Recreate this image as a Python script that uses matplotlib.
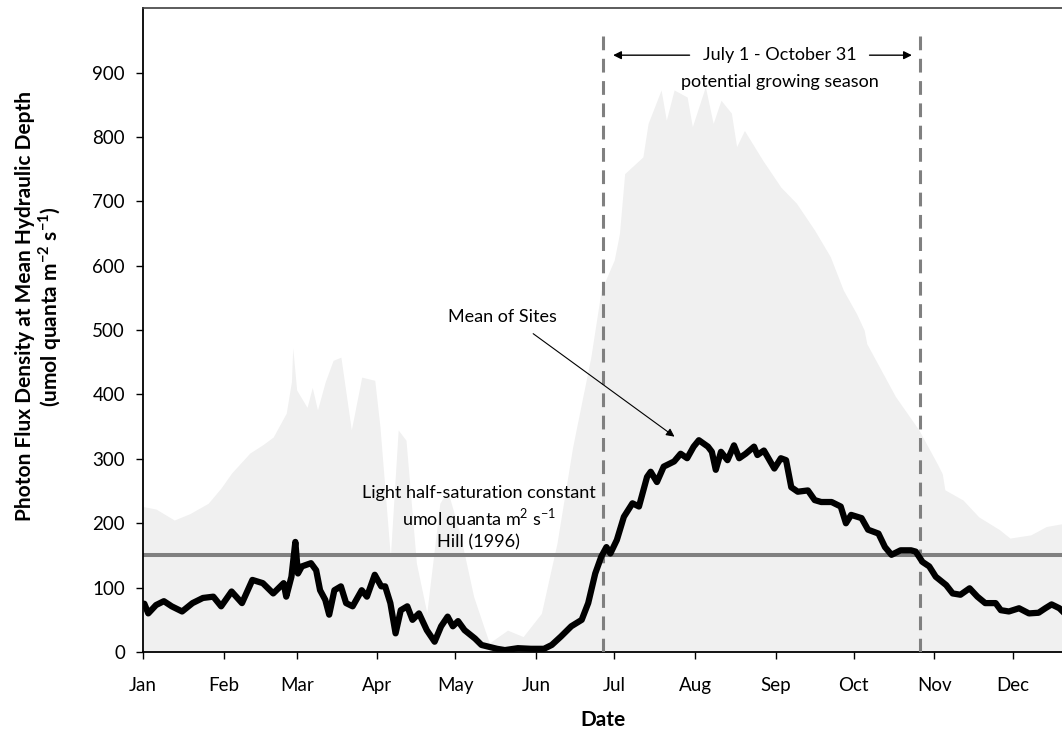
import matplotlib.pyplot as plt

plt.rcParams['font.family'] = ['Lato', 'DejaVu Sans']
plt.rcParams['mathtext.fontset'] = 'custom'
plt.rcParams['mathtext.rm'] = 'Lato'
plt.rcParams['mathtext.bf'] = 'Lato:bold'

# day of year (Jan 1 = 0)
month_starts = [0, 31, 59, 90, 120, 151, 181, 212, 243, 273, 304, 334]
month_labels = ['Jan', 'Feb', 'Mar', 'Apr', 'May', 'Jun',
                'Jul', 'Aug', 'Sep', 'Oct', 'Nov', 'Dec']

# grey envelope (max of sites)
env_day = [0, 5, 12, 18, 25, 30, 34, 41, 46, 50, 55, 57, 57.5, 59, 63, 65, 67,
           70, 73, 76, 80, 84, 89, 91, 95, 98, 101, 105, 109, 114, 117, 122,
           127, 133, 140, 146, 153, 159, 165, 172, 176, 181, 183, 185, 192,
           194, 199, 201, 204, 209, 211, 216, 219, 222, 226, 228, 231, 238,
           245, 251, 258, 264, 269, 274, 277, 278, 289, 298, 305, 307, 308,
           315, 321, 329, 333, 341, 347, 354]
env_val = [226, 222, 205, 215, 231, 255, 278, 309, 322, 334, 371, 420, 473, 407,
           380, 411, 376, 420, 453, 458, 345, 427, 422, 350, 148, 345, 329, 138,
           61, 231, 251, 179, 86, 14, 34, 24, 60, 169, 318, 458, 562, 609, 650,
           743, 769, 821, 873, 826, 873, 862, 816, 878, 821, 857, 837, 785, 810,
           764, 722, 697, 655, 614, 562, 526, 500, 479, 397, 345, 293, 277, 252,
           236, 210, 190, 177, 182, 195, 200]

# mean of sites
mean_day = [0, 0.5, 2, 5, 8, 11, 15, 19, 23, 27, 30, 34, 38, 42, 46, 50, 54, 55,
            57, 58.5, 59.5, 61, 64.5, 66.5, 68, 70, 71.5, 73.5, 76, 78, 80.5,
            84, 86, 89, 91.5, 93, 95, 97, 99, 101.5, 103.5, 106, 109, 112,
            114.5, 117, 119, 121, 123.5, 127.5, 130, 136, 139, 144, 149, 154,
            157, 160.5, 164.5, 168.5, 171, 173.7, 176, 178, 179.5, 182, 184.7,
            188, 190.5, 193.6, 195, 197.4, 200, 204, 206.5, 209, 211.5, 213.5,
            217, 218.5, 220, 222, 224.5, 227, 229, 231.5, 234.7, 236, 238.5,
            242.5, 245, 247, 249, 251.5, 255.4, 258, 260.5, 264.5, 268, 270,
            272, 276, 278.5, 282.5, 285, 287.5, 291, 295, 296.8, 299.4, 302,
            304.5, 308.5, 311, 314, 317.5, 320.5, 323.5, 327.5, 329.5, 332.6,
            336.5, 340.3, 344, 346.6, 349, 352, 354]
mean_val = [75, 75, 60, 73, 79, 71, 63, 76, 84, 86, 71, 94, 76, 112, 107, 91,
            107, 86, 117, 171, 122, 133, 138, 127, 96, 81, 58, 96, 102, 76, 71,
            96, 86, 120, 102, 102, 76, 29, 65, 71, 50, 60, 34, 16, 40, 55, 40,
            48, 34, 21, 11, 5, 3, 6, 5, 5, 11, 24, 40, 50, 76, 122, 148, 163,
            153, 174, 210, 231, 226, 272, 280, 264, 288, 296, 308, 301, 319,
            329, 319, 311, 283, 311, 298, 321, 301, 308, 319, 306, 313, 285,
            301, 298, 256, 249, 251, 236, 233, 233, 226, 200, 213, 208, 190,
            184, 163, 151, 158, 158, 156, 140, 133, 117, 104, 91, 89, 99, 86,
            76, 76, 65, 63, 68, 60, 61, 68, 74, 68, 60]

half_sat = 150
season_start = 176.5
season_end = 298.4

fig = plt.figure(figsize=(10.62, 7.30), dpi=100)
ax = fig.add_axes([0.1347, 0.1068, 0.8653, 0.882])

ax.fill_between(env_day, 0, env_val, color='#f0f0f0', lw=0, zorder=1)
ax.axhline(half_sat, color='#808080', lw=2.9, zorder=2)
ax.vlines([season_start, season_end], 0, 960, colors='#808080', lw=2.2,
          linestyles=(0, (4.5, 2.8)), zorder=3)
ax.plot(mean_day, mean_val, color='black', lw=4.5, zorder=4,
        solid_joinstyle='round')

# annotations
fs = 13
ax.text(244.7, 927, 'July 1 - October 31', ha='center', va='center',
        fontsize=fs)
ax.annotate('', xy=(season_start + 3, 927), xytext=(211, 927),
            arrowprops=dict(arrowstyle='-|>', color='black', lw=1,
                            mutation_scale=12))
ax.annotate('', xy=(season_end - 2, 927), xytext=(278, 927),
            arrowprops=dict(arrowstyle='-|>', color='black', lw=1,
                            mutation_scale=12))
ax.text(244.7, 886, 'potential growing season', ha='center', va='center',
        fontsize=fs)

ax.text(138, 520, 'Mean of Sites', ha='center', va='center', fontsize=fs)
ax.annotate('', xy=(205, 332), xytext=(149, 497),
            arrowprops=dict(arrowstyle='-|>', color='black', lw=0.8,
                            mutation_scale=12))

ax.text(129, 247, 'Light half-saturation constant', ha='center',
        va='center', fontsize=fs)
ax.text(129, 207, r'umol quanta m$^{2}$ s$^{-1}$', ha='center',
        va='center', fontsize=fs)
ax.text(129, 170, 'Hill (1996)', ha='center', va='center', fontsize=fs)

ax.set_xlim(0, 353)
ax.set_ylim(0, 1000)
ax.set_xticks(month_starts)
ax.set_xticklabels(month_labels)
ax.set_yticks(range(0, 1000, 100))
ax.tick_params(labelsize=13.5, length=5, width=1, direction='out')
ax.tick_params(axis='x', pad=13)
ax.tick_params(axis='y', pad=8)

ax.spines['right'].set_visible(False)
ax.spines['top'].set_color('#404040')
ax.spines['top'].set_linewidth(1.2)
ax.spines['left'].set_linewidth(1.3)
ax.spines['bottom'].set_linewidth(1.3)

ax.set_xlabel('Date', fontsize=15, fontweight='bold')
ax.xaxis.set_label_coords(0.5, -0.105)
ax.xaxis.label.set_va('center')
ax.set_ylabel('Photon Flux Density at Mean Hydraulic Depth\n'
              r'(umol quanta m$^{\mathbf{-2}}$ s$^{\mathbf{-1}}$)',
              fontsize=15, fontweight='bold', linespacing=1.05)
ax.yaxis.set_label_coords(-0.113, 0.537)
ax.yaxis.label.set_va('center')

fig.savefig('out.png', dpi=100)
